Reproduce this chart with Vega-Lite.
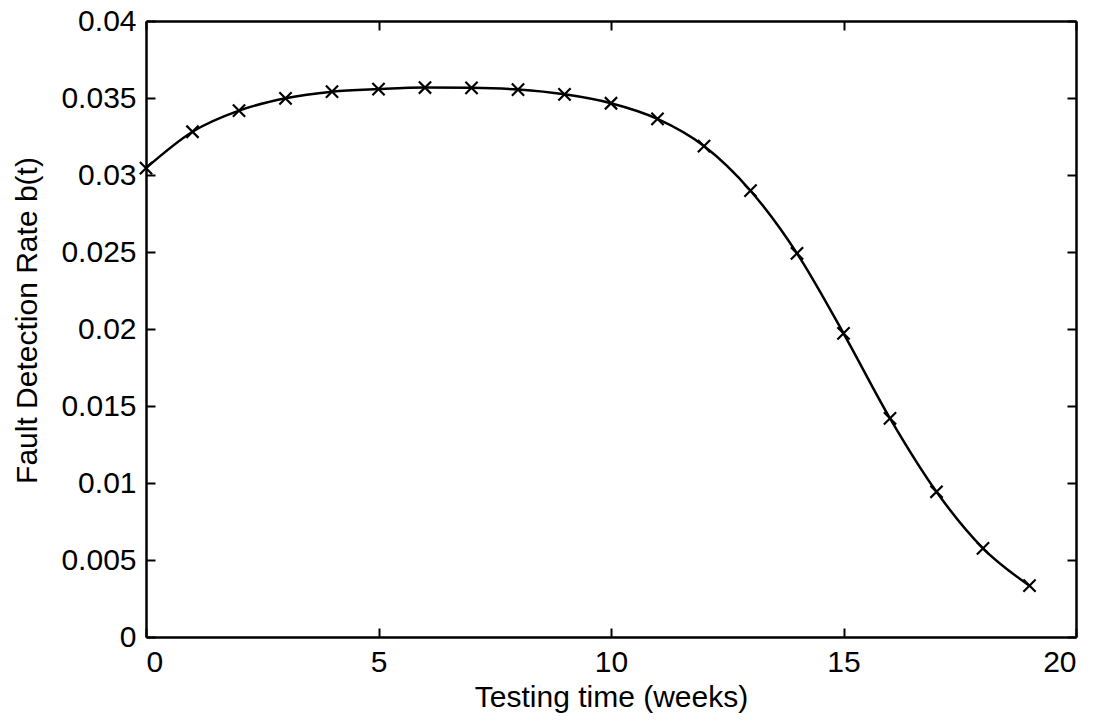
{
  "$schema": "https://vega.github.io/schema/vega-lite/v6.json",
  "autosize": "none",
  "width": 930,
  "height": 616,
  "padding": {"left": 146, "top": 21, "right": 36, "bottom": 84},
  "background": "white",
  "config": {
    "view": {"stroke": null},
    "font": "Liberation Sans",
    "axis": {
      "grid": false,
      "domainColor": "black",
      "domainWidth": 2.5,
      "tickColor": "black",
      "tickWidth": 2,
      "tickSize": -9,
      "labelFont": "Liberation Sans",
      "labelColor": "black",
      "titleFont": "Liberation Sans",
      "titleFontWeight": "normal",
      "titleColor": "black"
    }
  },
  "data": {
    "values": [
      {"t": 0, "b": 0.03045},
      {"t": 1, "b": 0.03281},
      {"t": 2, "b": 0.03418},
      {"t": 3, "b": 0.03498},
      {"t": 4, "b": 0.03541},
      {"t": 5, "b": 0.03558},
      {"t": 6, "b": 0.03568},
      {"t": 7, "b": 0.03566},
      {"t": 8, "b": 0.03555},
      {"t": 9, "b": 0.03524},
      {"t": 10, "b": 0.03466},
      {"t": 11, "b": 0.03364},
      {"t": 12, "b": 0.03188},
      {"t": 13, "b": 0.02898},
      {"t": 14, "b": 0.02491},
      {"t": 15, "b": 0.01972},
      {"t": 16, "b": 0.0142},
      {"t": 17, "b": 0.00943},
      {"t": 18, "b": 0.00576},
      {"t": 19, "b": 0.00333}
    ]
  },
  "layer": [
    {
      "mark": {"type": "line", "color": "black", "strokeWidth": 2.5, "interpolate": "monotone"},
      "encoding": {
        "x": {"field": "t", "type": "quantitative", "scale": {"domain": [0, 20], "nice": false, "zero": false},
          "axis": {"orient": "bottom", "values": [0, 5, 10, 15, 20], "title": "Testing time (weeks)", "labelFontSize": 30, "titleFontSize": 30, "labelPadding": 19, "titlePadding": 5}},
        "y": {"field": "b", "type": "quantitative", "scale": {"domain": [0, 0.04], "nice": false},
          "axis": {"orient": "left", "values": [0, 0.005, 0.01, 0.015, 0.02, 0.025, 0.03, 0.035, 0.04], "format": "~g", "title": "Fault Detection Rate b(t)", "labelFontSize": 30, "titleFontSize": 30, "labelPadding": 19, "titlePadding": 18, "titleY": 299}}
      }
    },
    {
      "mark": {"type": "point", "shape": "M-1,-1L1,1M-1,1L1,-1", "filled": false, "color": "black", "strokeWidth": 2.2, "size": 150, "opacity": 1},
      "encoding": {
        "x": {"field": "t", "type": "quantitative",
          "axis": {"orient": "top", "values": [0, 5, 10, 15, 20], "labels": false, "title": null}},
        "y": {"field": "b", "type": "quantitative",
          "axis": {"orient": "right", "values": [0, 0.005, 0.01, 0.015, 0.02, 0.025, 0.03, 0.035, 0.04], "labels": false, "title": null}}
      }
    }
  ],
  "resolve": {"axis": {"x": "independent", "y": "independent"}}
}
